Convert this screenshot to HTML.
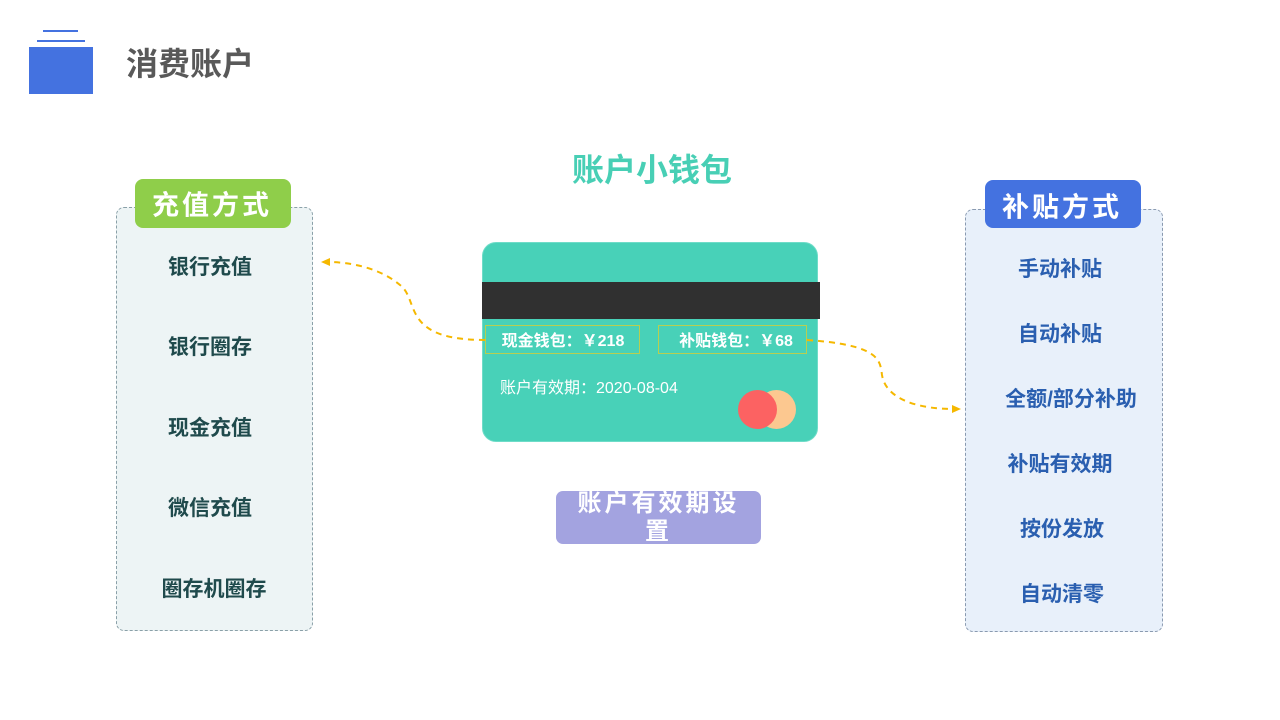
<!DOCTYPE html>
<html><head><meta charset="utf-8"><style>
*{margin:0;padding:0;box-sizing:border-box}
body{width:1280px;height:720px;background:#fff;position:relative;overflow:hidden;font-family:"Liberation Sans","Noto Sans CJK SC",sans-serif}
.a{position:absolute}
.t{position:absolute;white-space:nowrap;font-weight:bold;transform:translate(-50%,-50%)}
</style></head><body>
<div class="a" style="left:43px;top:30px;width:35px;height:2px;background:#4472e0"></div>
<div class="a" style="left:37px;top:40px;width:48px;height:2px;background:#4472e0"></div>
<div class="a" style="left:29px;top:47px;width:64px;height:47px;background:#4472e0"></div>
<div class="t" style="left:190px;top:62px;font-size:32px;color:#595959">消费账户</div>

<div class="t" style="left:652px;top:168px;font-size:32px;color:#48cfb5">账户小钱包</div>

<div class="a" style="left:116px;top:207px;width:197px;height:424px;background:#edf4f5;border:1px dashed #8aa0a8;border-radius:8px"></div>
<div class="a" style="left:135px;top:179px;width:156px;height:49px;background:#8fce4a;border-radius:8px"></div>
<div class="t" style="left:212px;top:203px;font-size:27px;color:#fff;letter-spacing:3px">充值方式</div>
<div class="t" style="left:210px;top:266px;font-size:21px;color:#1f4a4c">银行充值</div>
<div class="t" style="left:210px;top:346px;font-size:21px;color:#1f4a4c">银行圈存</div>
<div class="t" style="left:210px;top:427px;font-size:21px;color:#1f4a4c">现金充值</div>
<div class="t" style="left:210px;top:507px;font-size:21px;color:#1f4a4c">微信充值</div>
<div class="t" style="left:214px;top:588px;font-size:21px;color:#1f4a4c">圈存机圈存</div>

<div class="a" style="left:965px;top:209px;width:198px;height:423px;background:#e8f0fa;border:1px dashed #8a9ab0;border-radius:8px"></div>
<div class="a" style="left:985px;top:180px;width:156px;height:48px;background:#4472e0;border-radius:8px"></div>
<div class="t" style="left:1062px;top:205px;font-size:27px;color:#fff;letter-spacing:3px">补贴方式</div>
<div class="t" style="left:1060px;top:268px;font-size:21px;color:#2a5fb0">手动补贴</div>
<div class="t" style="left:1060px;top:333px;font-size:21px;color:#2a5fb0">自动补贴</div>
<div class="t" style="left:1071px;top:398px;font-size:21px;color:#2a5fb0">全额/部分补助</div>
<div class="t" style="left:1060px;top:463px;font-size:21px;color:#2a5fb0">补贴有效期</div>
<div class="t" style="left:1062px;top:528px;font-size:21px;color:#2a5fb0">按份发放</div>
<div class="t" style="left:1062px;top:593px;font-size:21px;color:#2a5fb0">自动清零</div>

<div class="a" style="left:482px;top:242px;width:336px;height:200px;background:#48d1b8;border-radius:14px;border:1px solid #6fdcc8"></div>
<div class="a" style="left:482px;top:282px;width:338px;height:37px;background:#303030"></div>
<div class="a" style="left:485px;top:325px;width:155px;height:29px;border:1px solid #b8cf50"></div>
<div class="a" style="left:658px;top:325px;width:149px;height:29px;border:1px solid #b8cf50"></div>
<div class="t" style="left:563px;top:339px;font-size:16px;color:#fff">现金钱包：￥218</div>
<div class="t" style="left:736px;top:339px;font-size:16px;color:#fff">补贴钱包：￥68</div>
<div class="a" style="left:500px;top:374px;font-size:16px;color:#fff;white-space:nowrap">账户有效期：2020-08-04</div>
<div class="a" style="left:757px;top:390px;width:39px;height:39px;border-radius:50%;background:#fcc890"></div>
<div class="a" style="left:738px;top:390px;width:39px;height:39px;border-radius:50%;background:#fc6262"></div>

<div class="a" style="left:556px;top:491px;width:205px;height:53px;background:#a3a3e0;border-radius:7px"></div>
<div class="a" style="left:556px;top:490px;width:205px;text-align:center;font-size:24px;font-weight:bold;color:#fff;line-height:28px;letter-spacing:3px">账户有效期设<br>置</div>

<svg class="a" style="left:0;top:0" width="1280" height="720">
<path d="M485,340 C400,340 420,300 400,285 C380,268 350,262 328,262" fill="none" stroke="#f5b800" stroke-width="2" stroke-dasharray="6,5"/>
<polygon points="321,262 330,258 330,266" fill="#f5b800"/>
<path d="M807,340 C880,345 880,360 882,375 C886,400 920,409 953,409" fill="none" stroke="#f5b800" stroke-width="2" stroke-dasharray="6,5"/>
<polygon points="961,409 952,405 952,413" fill="#f5b800"/>
</svg>
</body></html>
